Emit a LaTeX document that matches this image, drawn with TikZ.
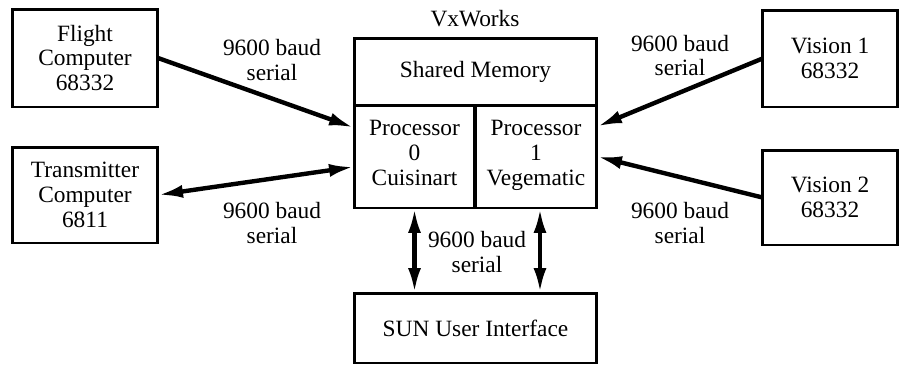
\documentclass[tikz,border=0pt]{standalone}
\usepackage{fontspec}
\setmainfont{Liberation Serif}
\usetikzlibrary{arrows.meta}
\usetikzlibrary{calc}

\begin{document}
\begin{tikzpicture}[x=0.02cm,y=-0.02cm,
  box/.style={draw,line width=1.7pt,outer sep=0pt,inner sep=0pt,align=center,font=\fontsize{13.3}{14.2}\selectfont},
  lbl/.style={align=center,font=\fontsize{13.3}{14.2}\selectfont},
  link/.style={line width=2.5pt,-{Latex[length=0.5cm,width=0.26cm]}},
  dlink/.style={line width=2.5pt,{Latex[length=0.5cm,width=0.26cm]}-{Latex[length=0.5cm,width=0.26cm]}}]
\useasboundingbox (0,0) rectangle (900,366);
\node[box,minimum width=2.92cm,minimum height=1.96cm] (fc) at (85,58) {Flight\\Computer\\68332};
\node[box,minimum width=2.92cm,minimum height=1.92cm] (tx) at (85,195) {Transmitter\\Computer\\6811};
\node[box,minimum width=2.7cm,minimum height=1.94cm] (v1) at (830,58.5) {Vision 1\\68332};
\node[box,minimum width=2.7cm,minimum height=1.9cm] (v2) at (830,197.5) {Vision 2\\68332};
\node[box,minimum width=4.86cm,minimum height=1.34cm] (mem) at (475.5,71.5) {Shared Memory};
\node[box,minimum width=2.42cm,minimum height=2.06cm] (p0) at (414.5,156.5) {Processor\\0\\Cuisinart\strut};
\node[box,minimum width=2.44cm,minimum height=2.06cm] (p1) at (536,156.5) {Processor\\1\\Vegematic\strut};
\node[box,minimum width=4.86cm,minimum height=1.4cm] (sun) at (475.5,328) {SUN User Interface};
\node[lbl] (vx) at (475,19) {VxWorks};
\node[lbl] (l1) at (272,60) {9600 baud\\serial};
\node[lbl] (l2) at (272,223) {9600 baud\\serial};
\node[lbl] (l3) at (680,55.5) {9600 baud\\serial};
\node[lbl] (l4) at (680,223) {9600 baud\\serial};
\node[lbl] (l5) at (477,252) {9600 baud\\serial};
\draw[link] (fc.east) -- ($(p0.north west)!0.22!(p0.south west)$);
\draw[dlink] (tx.east) -- ($(p0.north west)!0.6!(p0.south west)$);
\draw[link] (v1.west) -- ($(p1.north east)!0.21!(p1.south east)$);
\draw[link] (v2.west) -- (p1.east);
\draw[dlink] (p0.south) -- (p0.south |- sun.north);
\draw[dlink] ($(p1.south)+(4,0)$) -- ($(p1.south |- sun.north)+(4,0)$);
\end{tikzpicture}
\end{document}
